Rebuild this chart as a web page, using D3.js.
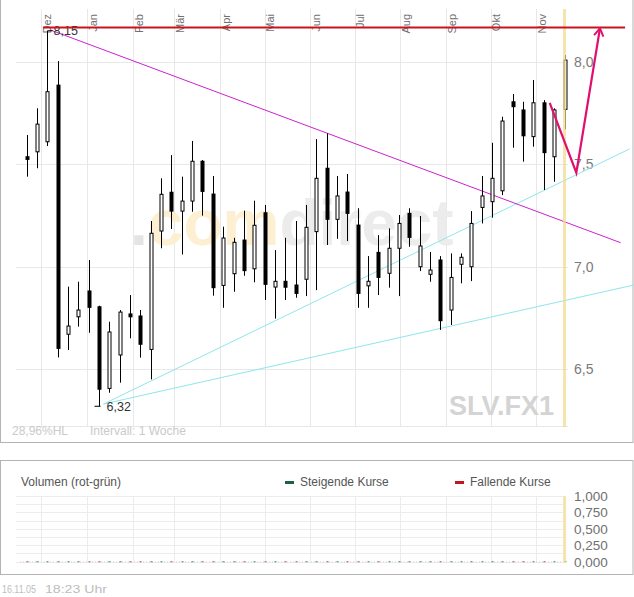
<!DOCTYPE html>
<html><head><meta charset="utf-8">
<script src="https://cdn.jsdelivr.net/npm/d3@7/dist/d3.min.js"></script>
<style>
html,body{margin:0;padding:0;background:#fff;}
svg{display:block;font-family:"Liberation Sans",Arial,sans-serif;}
</style></head>
<body>
<svg id="c" width="634" height="597"></svg>
<script>
// ---------- DATA ----------
const weekDates = ["2004-11-21","2004-11-28","2004-12-05","2004-12-12","2004-12-19","2004-12-26",
 "2005-01-02","2005-01-09","2005-01-16","2005-01-23","2005-01-30","2005-02-06","2005-02-13","2005-02-20","2005-02-27",
 "2005-03-06","2005-03-13","2005-03-20","2005-03-27","2005-04-03","2005-04-10","2005-04-17","2005-04-24",
 "2005-05-01","2005-05-08","2005-05-15","2005-05-22","2005-05-29","2005-06-05","2005-06-12","2005-06-19","2005-06-26",
 "2005-07-03","2005-07-10","2005-07-17","2005-07-24","2005-07-31","2005-08-07","2005-08-14","2005-08-21","2005-08-28",
 "2005-09-04","2005-09-11","2005-09-18","2005-09-25","2005-10-02","2005-10-09","2005-10-16","2005-10-23","2005-10-30",
 "2005-11-06","2005-11-13","2005-11-20"];
const openV  = [7.536,7.56,7.609,7.885,6.671,6.756,6.882,6.805,6.407,6.570,6.770,6.760,6.597,7.174,7.363,7.271,7.320,7.514,7.354,6.909,6.966,7.130,6.990,7.263,6.901,6.929,6.911,6.939,7.171,7.480,7.231,7.364,7.203,6.907,7.070,6.968,7.090,7.260,7.000,6.963,7.033,6.789,7.012,7.000,7.289,7.317,7.370,7.804,7.764,7.634,7.799,7.536,7.767];
const highV  = [7.642,7.772,8.150,8.002,6.903,6.927,7.033,6.810,6.732,6.789,6.862,6.789,7.223,7.431,7.544,7.439,7.613,7.520,7.442,7.195,7.141,7.273,7.322,7.301,7.081,7.141,7.223,7.301,7.622,7.650,7.442,7.452,7.285,7.052,7.154,7.187,7.252,7.285,7.247,7.072,7.052,7.065,7.065,7.271,7.442,7.604,7.731,7.842,7.804,7.910,7.812,7.772,8.032];
const lowV   = [7.439,7.480,7.588,6.558,6.594,6.708,6.678,6.320,6.386,6.435,6.651,6.557,6.451,7.090,7.184,7.060,7.268,7.249,6.859,6.800,6.878,6.956,6.924,6.838,6.747,6.838,6.849,6.857,6.886,7.106,7.136,7.125,6.800,6.800,6.862,6.898,6.857,7.097,6.979,6.927,6.692,6.716,6.919,6.930,7.211,7.239,7.349,7.580,7.512,7.585,7.374,7.414,7.670];
const closeV = [7.523,7.695,7.853,6.602,6.711,6.789,6.802,6.403,6.682,6.779,6.756,6.622,7.163,7.353,7.271,7.320,7.514,7.367,6.898,7.140,7.119,6.981,7.202,6.914,6.929,6.900,6.870,7.192,7.431,7.231,7.345,7.260,6.870,6.929,6.948,7.090,7.211,7.143,7.101,6.984,6.737,6.948,7.046,7.211,7.345,7.431,7.710,7.780,7.638,7.799,7.556,7.764,8.007];

const monthStarts = ["2004-12-01","2005-01-01","2005-02-01","2005-03-01","2005-04-01","2005-05-01","2005-06-01","2005-07-01","2005-08-01","2005-09-01","2005-10-01","2005-11-01"];
const monthLabels = ["Dez","Jan","Feb","Mär","Apr","Mai","Jun","Jul","Aug","Sep","Okt","Nov"];
const priceTicks = [6.5,7.0,7.5,8.0];
const volTicks = [0,0.25,0.5,0.75,1.0];
const volGrid = [0,0.125,0.25,0.375,0.5,0.625,0.75,0.875,1.0];

// drawn analysis lines: [date, value]
const resistanceLine = [["2004-12-02",8.166],["2005-12-31",8.166]];
const downTrend = [["2004-12-07",8.154],["2005-12-28",7.117]];
const upTrend1 = [["2005-01-12",6.331],["2006-01-03",7.574]];
const upTrend2 = [["2005-01-12",6.331],["2006-01-06",6.911]];
const arrowPath = [["2005-11-10",7.799],["2005-11-28",7.458],["2005-12-14",8.162]];
const maxLabel = {date:"2004-12-05", value:8.15, text:"8,15"};
const minLabel = {date:"2005-01-09", value:6.32, text:"6,32"};

// ---------- SETUP ----------
const P = s => new Date(s + "T12:00:00Z");
const svg = d3.select("#c");
const x = d3.scaleUtc().domain([new Date(Date.UTC(2004,11,1)), new Date(Date.UTC(2005,10,1))]).range([40.7,535.7]);
const y = d3.scaleLinear().domain([6.219, 8.256]).range([427, 9]);
const vy = d3.scaleLinear().domain([0,1]).range([561.7, 496]);
const px = d => Math.round(x(typeof d === "string" ? P(d) : d)) + 0.5;
const gridCol = "#e8e8e8";
const plotL = 16, plotR = 568, bandX = 564.5;

// ---------- MAIN PANEL ----------
svg.append("rect").attr("x",0.5).attr("y",-1).attr("width",632.5).attr("height",443.5)
  .attr("fill","none").attr("stroke","#b4b4b4");

// vertical month grid
svg.append("g").selectAll("line").data(monthStarts).join("line")
  .attr("x1",d=>px(d)).attr("x2",d=>px(d)).attr("y1",9).attr("y2",427)
  .attr("stroke",gridCol);
// horizontal grid
svg.append("g").selectAll("line").data(priceTicks).join("line")
  .attr("x1",plotL).attr("x2",plotR).attr("y1",d=>Math.round(y(d))+0.5).attr("y2",d=>Math.round(y(d))+0.5)
  .attr("stroke",gridCol);
svg.append("line").attr("x1",plotL).attr("x2",plotR).attr("y1",426.5).attr("y2",426.5).attr("stroke",gridCol);

// watermark
const wm = svg.append("text").attr("x",130).attr("y",245).attr("font-size",64).attr("font-weight","bold");
wm.append("tspan").attr("fill","#e4e4e4").text(".");
wm.append("tspan").attr("fill","#fdefd2").text("com");
wm.append("tspan").attr("fill","#ececec").text("direct");
svg.append("text").attr("x",554).attr("y",415).attr("text-anchor","end").attr("font-size",27)
  .attr("font-weight","bold").attr("fill","#d4d4d4").text("SLV.FX1");

// month labels via axis
const mAxis = d3.axisTop(x).tickValues(monthStarts.map(s=>new Date(s+"T00:00:00Z"))).tickSize(0)
  .tickFormat((d,i)=>monthLabels[i]);
const mg = svg.append("g").attr("transform","translate(0,0)").call(mAxis);
mg.select(".domain").remove();
mg.selectAll("text").attr("transform","rotate(-90)").attr("x",-14).attr("y",10).attr("dy",0)
  .style("text-anchor","end").attr("fill","#707070").attr("font-size",11)
  .attr("font-family","'Liberation Sans',Arial,sans-serif");

// price axis labels
const pAxis = d3.axisRight(y).tickValues(priceTicks).tickSize(0).tickPadding(0)
  .tickFormat(d=>d.toFixed(1).replace(".",","));
const pg = svg.append("g").attr("transform","translate(574,0)").call(pAxis);
pg.select(".domain").remove();
pg.selectAll("text").attr("fill","#7a7a7a").attr("font-size",14).attr("font-family","'Liberation Sans',Arial,sans-serif");

// footnotes
svg.append("text").attr("x",12).attr("y",435).attr("font-size",12).attr("fill","#cacaca").text("28,96%HL");
svg.append("text").attr("x",90).attr("y",435).attr("font-size",12).attr("fill","#cacaca").text("Intervall: 1 Woche");

// trend lines
const line = d3.line().x(d=>x(P(d[0]))).y(d=>y(d[1]));
svg.append("path").attr("d",line(upTrend1)).attr("fill","none").attr("stroke","#8fe6ec").attr("stroke-width",1);
svg.append("path").attr("d",line(upTrend2)).attr("fill","none").attr("stroke","#8fe6ec").attr("stroke-width",1);
svg.append("path").attr("d",line(downTrend)).attr("fill","none").attr("stroke","#cc22cc").attr("stroke-width",1);

// candles
const candles = weekDates.map((d,i)=>({d, o:openV[i], h:highV[i], l:lowV[i], c:closeV[i]}));
const cg = svg.append("g");
candles.forEach(k=>{
  const cx = px(k.d);
  cg.append("line").attr("x1",cx).attr("x2",cx).attr("y1",y(k.h)).attr("y2",y(k.l))
    .attr("stroke","#000").attr("stroke-width",1);
  const top = y(Math.max(k.o,k.c)), bot = y(Math.min(k.o,k.c));
  if (k.c >= k.o) {
    cg.append("rect").attr("x",cx-1.5).attr("y",top).attr("width",3).attr("height",Math.max(bot-top,1.5))
      .attr("fill","#fff").attr("stroke","#000").attr("stroke-width",1);
  } else {
    cg.append("rect").attr("x",cx-2).attr("y",top-0.5).attr("width",4).attr("height",Math.max(bot-top+1,2.5))
      .attr("fill","#000");
  }
});

// extreme labels
const mx = px(maxLabel.date), my = y(maxLabel.value);
svg.append("line").attr("x1",mx).attr("x2",mx+5).attr("y1",my).attr("y2",my).attr("stroke","#000");
svg.append("text").attr("x",mx+6).attr("y",my+4.5).attr("font-size",12.5).attr("fill","#333").text(maxLabel.text);
const nx = px(minLabel.date), ny = y(minLabel.value);
svg.append("line").attr("x1",nx-5).attr("x2",nx+1).attr("y1",ny).attr("y2",ny).attr("stroke","#000");
svg.append("text").attr("x",nx+7).attr("y",ny+4.5).attr("font-size",12.5).attr("fill","#333").text(minLabel.text);

// current-day band (drawn over candles)
svg.append("rect").attr("x",bandX-1.5).attr("y",9).attr("width",3).attr("height",418)
  .attr("fill","#f2d98a").attr("opacity",0.7);

// resistance line
svg.append("path").attr("d",line(resistanceLine)).attr("fill","none").attr("stroke","#c8141e").attr("stroke-width",2);

// arrow
svg.append("path").attr("d",line(arrowPath)).attr("fill","none").attr("stroke","#e0106e")
  .attr("stroke-width",2.2).attr("stroke-linejoin","miter");
const tip = arrowPath[2], prev = arrowPath[1];
const tx = x(P(tip[0])), ty = y(tip[1]), bx = x(P(prev[0])), by = y(prev[1]);
const ang = Math.atan2(ty-by, tx-bx), L = 9, spread = 0.55;
svg.append("path").attr("d",
  `M${tx - L*Math.cos(ang-spread)},${ty - L*Math.sin(ang-spread)}L${tx},${ty}L${tx - L*Math.cos(ang+spread)},${ty - L*Math.sin(ang+spread)}`)
  .attr("fill","none").attr("stroke","#e0106e").attr("stroke-width",2);

// ---------- VOLUME PANEL ----------
svg.append("rect").attr("x",0.5).attr("y",460.5).attr("width",632.5).attr("height",114)
  .attr("fill","none").attr("stroke","#b4b4b4");
svg.append("g").selectAll("line").data(volGrid).join("line")
  .attr("x1",plotL).attr("x2",563).attr("y1",d=>Math.round(vy(d))+0.5).attr("y2",d=>Math.round(vy(d))+0.5)
  .attr("stroke","#ececec");
svg.append("g").selectAll("line").data(monthStarts).join("line")
  .attr("x1",d=>px(d)).attr("x2",d=>px(d)).attr("y1",vy(1)).attr("y2",vy(0))
  .attr("stroke","#ececec");
// zero-volume baseline marks
svg.append("line").attr("x1",20).attr("x2",562).attr("y1",562).attr("y2",562)
  .attr("stroke","#cfcfcf").attr("stroke-dasharray","1,2");
svg.append("g").selectAll("rect").data(candles).join("rect")
  .attr("x",d=>px(d.d)-1).attr("y",vy(0)-0.5).attr("width",2).attr("height",1)
  .attr("fill",d=>d.c>=d.o?"#5a8a70":"#b06060");
svg.append("rect").attr("x",bandX-1.5).attr("y",496).attr("width",3).attr("height",67)
  .attr("fill","#f2d98a").attr("opacity",0.7);

const vAxis = d3.axisRight(vy).tickValues(volTicks).tickSize(0).tickPadding(0)
  .tickFormat(d=>d.toFixed(3).replace(".",","));
const vg = svg.append("g").attr("transform","translate(574,0)").call(vAxis);
vg.select(".domain").remove();
vg.selectAll("text").attr("fill","#707070").attr("font-size",13.5).attr("font-family","'Liberation Sans',Arial,sans-serif");

svg.append("text").attr("x",21).attr("y",486).attr("font-size",12).attr("fill","#555").text("Volumen (rot-grün)");
svg.append("rect").attr("x",285).attr("y",481).attr("width",9).attr("height",3).attr("fill","#1d6045");
svg.append("text").attr("x",300).attr("y",486).attr("font-size",12).attr("fill","#555").text("Steigende Kurse");
svg.append("rect").attr("x",455).attr("y",481).attr("width",9).attr("height",3).attr("fill","#c0161e");
svg.append("text").attr("x",470).attr("y",486).attr("font-size",12).attr("fill","#555").text("Fallende Kurse");

// footer
svg.append("text").attr("x",2).attr("y",593).attr("font-size",11).attr("fill","#bdbdbd")
  .attr("textLength",34).attr("lengthAdjust","spacingAndGlyphs").text("16.11.05");
svg.append("text").attr("x",45).attr("y",593).attr("font-size",11).attr("fill","#bdbdbd")
  .attr("textLength",62).attr("lengthAdjust","spacingAndGlyphs").text("18:23 Uhr");
</script>
</body></html>
